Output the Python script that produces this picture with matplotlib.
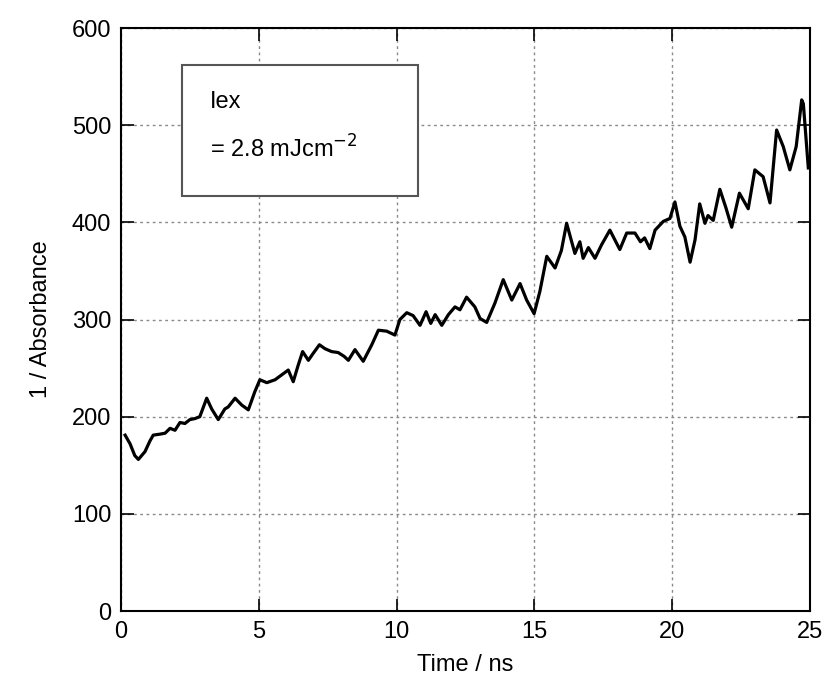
import matplotlib
matplotlib.use("Agg")
import matplotlib.pyplot as plt
from matplotlib.patches import Rectangle

# Time (ns) and 1/Absorbance
time_ns = [0.15, 0.33, 0.5, 0.63, 0.87, 1.05, 1.17, 1.41, 1.6, 1.78, 1.96, 2.14, 2.32, 2.5,
           2.68, 2.86, 3.11, 3.29, 3.53, 3.77, 3.89, 4.14, 4.38, 4.62, 4.86, 5.04, 5.29,
           5.59, 5.83, 6.07, 6.25, 6.43, 6.59, 6.8, 6.97, 7.2, 7.4, 7.64, 7.88, 8.1, 8.25,
           8.49, 8.79, 9.1, 9.34, 9.64, 9.94, 10.12, 10.37, 10.6, 10.85, 11.07, 11.24,
           11.4, 11.64, 11.88, 12.12, 12.3, 12.54, 12.84, 13.03, 13.27, 13.57, 13.87,
           14.18, 14.48, 14.72, 14.99, 15.2, 15.45, 15.75, 15.98, 16.17, 16.47, 16.65,
           16.77, 16.96, 17.2, 17.44, 17.74, 18.1, 18.35, 18.65, 18.85, 19.0, 19.19,
           19.38, 19.68, 19.92, 20.1, 20.28, 20.46, 20.65, 20.83, 21.0, 21.19, 21.3,
           21.49, 21.73, 21.95, 22.16, 22.44, 22.76, 23.0, 23.3, 23.55, 23.79, 24.03,
           24.27, 24.5, 24.7, 24.76, 24.94]
inv_abs = [181, 172, 160, 156, 164, 175, 181, 182, 183, 188, 186, 194, 193, 197,
           198, 200, 219, 208, 197, 208, 210, 219, 212, 207, 226, 238, 235,
           238, 243, 248, 236, 253, 267, 258, 265, 274, 270, 267, 266, 262, 258,
           269, 257, 274, 289, 288, 284, 300, 307, 304, 294, 308, 296,
           305, 294, 305, 313, 310, 323, 313, 301, 297, 317, 341,
           320, 337, 320, 306, 329, 365, 353, 371, 399, 368, 380,
           363, 374, 363, 377, 392, 372, 389, 389, 380, 384, 373,
           392, 401, 404, 421, 396, 385, 359, 382, 419, 399, 407,
           402, 434, 415, 395, 430, 414, 454, 447, 420, 495, 478,
           454, 478, 526, 522, 456]

x_ticks = [0, 5, 10, 15, 20, 25]
y_ticks = [0, 100, 200, 300, 400, 500, 600]

plt.rcParams['font.family'] = ['Liberation Sans', 'DejaVu Sans']

fig = plt.figure(figsize=(8.27, 6.88), dpi=100)
ax = fig.add_axes([0.1463, 0.1119, 0.8331, 0.8474])

ax.plot(time_ns, inv_abs, color='black', linewidth=2.3, zorder=3)

ax.set_xlim(0, 25)
ax.set_ylim(0, 600)
ax.set_xticks(x_ticks)
ax.set_yticks(y_ticks)
ax.grid(True, color='#8a8a8a', linestyle=(0, (2, 2.5)), linewidth=1.0)
ax.tick_params(direction='in', length=9, width=1.2, top=True, right=True,
               labelsize=17, pad=7)
for s in ax.spines.values():
    s.set_linewidth(1.5)

ax.set_xlabel('Time / ns', fontsize=17, labelpad=8)
ax.set_ylabel('1 / Absorbance', fontsize=17, labelpad=14)

# annotation box
ax.add_patch(Rectangle((0.0885, 0.712), 0.3425, 0.2245, transform=ax.transAxes,
                       facecolor='white', edgecolor='#555555', linewidth=1.5, zorder=4))
ax.text(0.129, 0.873, 'Iex', transform=ax.transAxes, fontsize=17,
        va='center', ha='left', zorder=5)
ax.text(0.129, 0.793, '= 2.8 mJcm$^{-2}$', transform=ax.transAxes, fontsize=17,
        va='center', ha='left', zorder=5)

fig.savefig('out.png', dpi=100)
